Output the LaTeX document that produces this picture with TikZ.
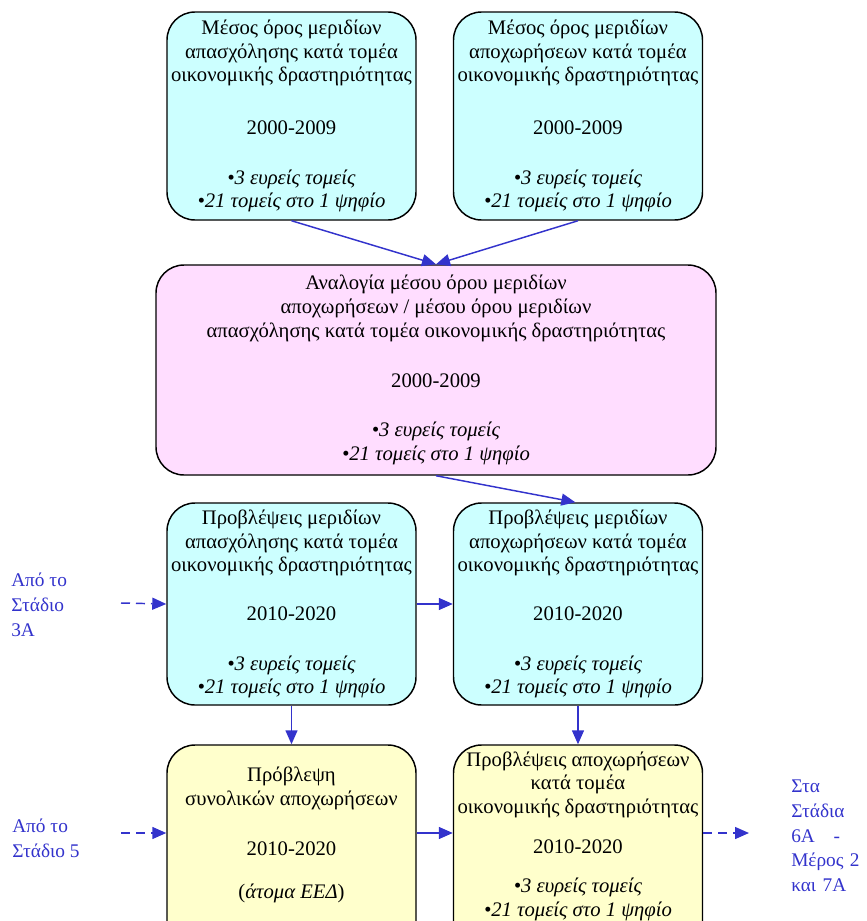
\documentclass[tikz,border=0pt]{standalone}
\usepackage{fontspec}
\setmainfont{Liberation Serif}
\usetikzlibrary{arrows.meta,calc}
\definecolor{boxcyan}{HTML}{CCFFFF}
\definecolor{boxpink}{HTML}{FFDDFF}
\definecolor{boxyellow}{HTML}{FFFFCC}
\definecolor{arrowblue}{HTML}{3333CC}
\begin{document}
\begin{tikzpicture}[x=0.75pt,y=-0.75pt,
  box/.style={draw=black, line width=1.1pt, rounded corners=21pt, minimum width=186.75pt, minimum height=156pt, align=center, inner sep=0pt, font=\fontsize{15.5}{17.8}\selectfont},
  cyanbox/.style={box, fill=boxcyan},
  pinkbox/.style={box, fill=boxpink, minimum width=420pt, minimum height=157.5pt},
  yellowbox/.style={box, fill=boxyellow},
  boxtext/.style={align=center, inner sep=0pt, font=\fontsize{15.5}{17.8}\selectfont},
  arr/.style={draw=arrowblue, line width=1.1pt, -{Triangle[length=10.5pt,width=9pt]}},
  dasharr/.style={arr, dash pattern=on 6.75pt off 4.5pt},
  lbl/.style={text=arrowblue, align=left, inner sep=0pt, font=\fontsize{14.5}{18.5}\selectfont}]
\useasboundingbox (0,0) rectangle (867,921);
\clip (0,0) rectangle (867,921);

\node[cyanbox] (A) at (291.5,116) {Μέσος όρος μεριδίων\\απασχόλησης κατά τομέα\\οικονομικής δραστηριότητας\\[22pt]2000-2009\\[19pt]\textit{•3 ευρείς τομείς}\\\textit{•21 τομείς στο 1 ψηφίο}};
\node[cyanbox] (B) at (578,116) {Μέσος όρος μεριδίων\\αποχωρήσεων κατά τομέα\\οικονομικής δραστηριότητας\\[22pt]2000-2009\\[19pt]\textit{•3 ευρείς τομείς}\\\textit{•21 τομείς στο 1 ψηφίο}};
\node[pinkbox] (C) at (436,370) {Αναλογία μέσου όρου μεριδίων\\αποχωρήσεων / μέσου όρου μεριδίων\\απασχόλησης κατά τομέα οικονομικής δραστηριότητας\\[20pt]2000-2009\\[19pt]\textit{•3 ευρείς τομείς}\\\textit{•21 τομείς στο 1 ψηφίο}};
\node[cyanbox, minimum height=151.5pt] (D) at (291.5,604) {Προβλέψεις μεριδίων\\απασχόλησης κατά τομέα\\οικονομικής δραστηριότητας\\[19pt]2010-2020\\[19pt]\textit{•3 ευρείς τομείς}\\\textit{•21 τομείς στο 1 ψηφίο}};
\node[cyanbox, minimum height=151.5pt] (E) at (578,604) {Προβλέψεις μεριδίων\\αποχωρήσεων κατά τομέα\\οικονομικής δραστηριότητας\\[19pt]2010-2020\\[19pt]\textit{•3 ευρείς τομείς}\\\textit{•21 τομείς στο 1 ψηφίο}};
\node[yellowbox] (F) at (291.5,849) {};
\node[yellowbox] (G) at (578,849) {};
\node[boxtext] (Ft) at (291.5,835) {Πρόβλεψη\\συνολικών αποχωρήσεων\\[19.5pt]2010-2020\\[14.5pt](\textit{άτομα ΕΕΔ})};
\node[boxtext] (Gt) at (578,836) {Προβλέψεις αποχωρήσεων\\κατά τομέα\\οικονομικής δραστηριότητας\\[12pt]2010-2020\\[11.5pt]\textit{•3 ευρείς τομείς}\\\textit{•21 τομείς στο 1 ψηφίο}};

\node[lbl, anchor=north west] (L1) at (11,573) {Από το\\Στάδιο\\3Α};
\node[lbl, anchor=north west] (L2) at (12,819) {Από το\\Στάδιο 5};
\node[lbl, anchor=north west, text width=60pt] (R1) at (791,780) {Στα\\Στάδια\\6Α\hspace{14pt}-\\Μέρος 2\\και 7Α};

\coordinate (s3) at (121,603);
\coordinate (s5) at (121,833);
\coordinate (t7) at (749,833);

\draw[arr] (A.south) -- (C.north);
\draw[arr] (B.south) -- (C.north);
\draw[arr] (C.south) -- ([xshift=-2pt]E.north);
\draw[arr] (D.east) -- (E.west);
\draw[arr] (D.south) -- (F.north);
\draw[arr] (E.south) -- (G.north);
\draw[arr] ([yshift=12pt]F.east) -- ([yshift=12pt]G.west);
\draw[dasharr] (s3) -- (D.west);
\draw[dasharr] (s5) -- ([yshift=12pt]F.west);
\draw[dasharr] ([yshift=12pt]G.east) -- (t7);
\end{tikzpicture}
\end{document}
